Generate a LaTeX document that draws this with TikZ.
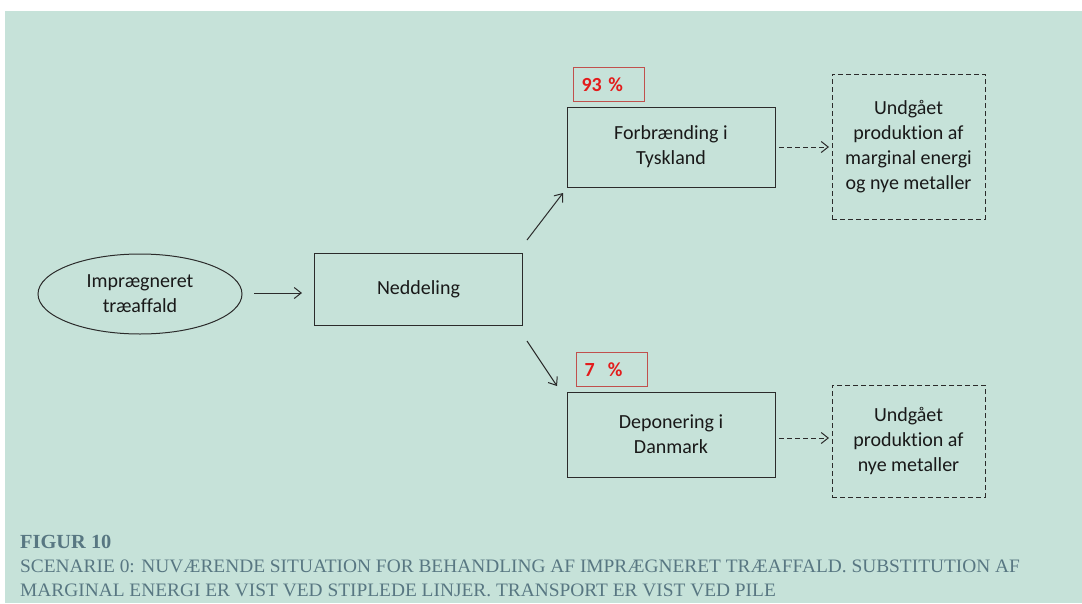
\documentclass[tikz,border=0pt]{standalone}
\usepackage{fontspec}
\setmainfont[Ligatures=NoCommon]{Carlito}
\newfontfamily\capfont[FakeStretch=1.02]{Liberation Serif}
\usetikzlibrary{arrows.meta,shapes.geometric}

\definecolor{panel}{HTML}{C6E2D9}
\definecolor{capcol}{HTML}{587782}
\definecolor{boxline}{HTML}{2B2B2B}
\definecolor{pctline}{HTML}{C0504D}
\definecolor{pcttext}{HTML}{E31B1B}

\tikzset{
  stepbox/.style={draw=boxline, line width=1pt, minimum width=208pt, align=center,
    font=\fontsize{20}{25}\selectfont, text=black!90},
  gainbox/.style={draw=boxline, line width=1pt, dash pattern=on 5pt off 3pt,
    minimum width=153pt, align=center, font=\fontsize{20}{25}\selectfont, text=black!90},
  pctbox/.style={draw=pctline, line width=1pt, minimum width=71pt, minimum height=34pt,
    font=\bfseries\fontsize{20}{24}\selectfont, text=pcttext, anchor=north west,
    text width=55pt, inner xsep=8pt, align=left},
  flow/.style={draw=boxline, line width=1pt, -{Straight Barb[length=7pt,width=11pt]}},
  gain/.style={flow, dash pattern=on 5pt off 3pt},
  captxt/.style={anchor=base west, inner sep=0pt, text=capcol}
}

\begin{document}
\begin{tikzpicture}[x=1pt,y=-1pt]
  \useasboundingbox (0,0) rectangle (1082,603);
  \fill[white] (0,0) rectangle (1082,603);
  \fill[panel] (5,11) rectangle (1082,603);

  % source and pre-treatment
  \node[ellipse, draw=boxline, line width=1pt, minimum width=204pt, minimum height=80pt,
        align=center, font=\fontsize{20}{25}\selectfont, text=black!90]
        (src) at (140,294) {Imprægneret\\træaffald};
  \node[stepbox, minimum height=72pt] (cut) at (418.5,289) {Neddeling};

  % treatment routes
  \node[stepbox, minimum height=80pt] (burn) at (671,147) {Forbrænding i\\Tyskland};
  \node[stepbox, minimum height=85pt] (dep) at (671,434.5) {Deponering i\\Danmark};

  % shares
  \node[pctbox] (p93) at (573,67) {93 \%};
  \node[pctbox] (p7) at (576,352) {7\ \ \%};

  % avoided production
  \node[gainbox, minimum height=145pt] (g1) at (908.5,146.5)
        {Undgået\\produktion af\\marginal energi\\og nye metaller};
  \node[gainbox, minimum height=112pt] (g2) at (908.5,441)
        {Undgået\\produktion af\\nye metaller};

  % transport
  \coordinate (a1s) at (254,293);
  \coordinate (a1e) at (302,293);
  \draw[flow] (a1s) -- (a1e);
  \coordinate (upS) at (527,240);
  \coordinate (upE) at (563,193);
  \draw[flow] (upS) -- (upE);
  \coordinate (dnS) at (527,341);
  \coordinate (dnE) at (557,386);
  \draw[flow] (dnS) -- (dnE);

  % substitution
  \coordinate (s1s) at (779,147);
  \coordinate (s1e) at (829,147);
  \draw[gain] (s1s) -- (s1e);
  \coordinate (s2s) at (779,438);
  \coordinate (s2e) at (829,438);
  \draw[gain] (s2s) -- (s2e);

  % caption
  \node[captxt, font=\capfont\bfseries\fontsize{20}{24}\selectfont] (cap0) at (20,548) {FIGUR 10};
  \node[captxt, font=\capfont\fontsize{19}{24}\selectfont] (cap1) at (20,572)
    {SCENARIE 0: NUVÆRENDE SITUATION FOR BEHANDLING AF IMPRÆGNERET TRÆAFFALD. SUBSTITUTION AF};
  \node[captxt, font=\capfont\fontsize{19}{24}\selectfont] (cap2) at (20,596)
    {MARGINAL ENERGI ER VIST VED STIPLEDE LINJER. TRANSPORT ER VIST VED PILE};
\end{tikzpicture}
\end{document}
